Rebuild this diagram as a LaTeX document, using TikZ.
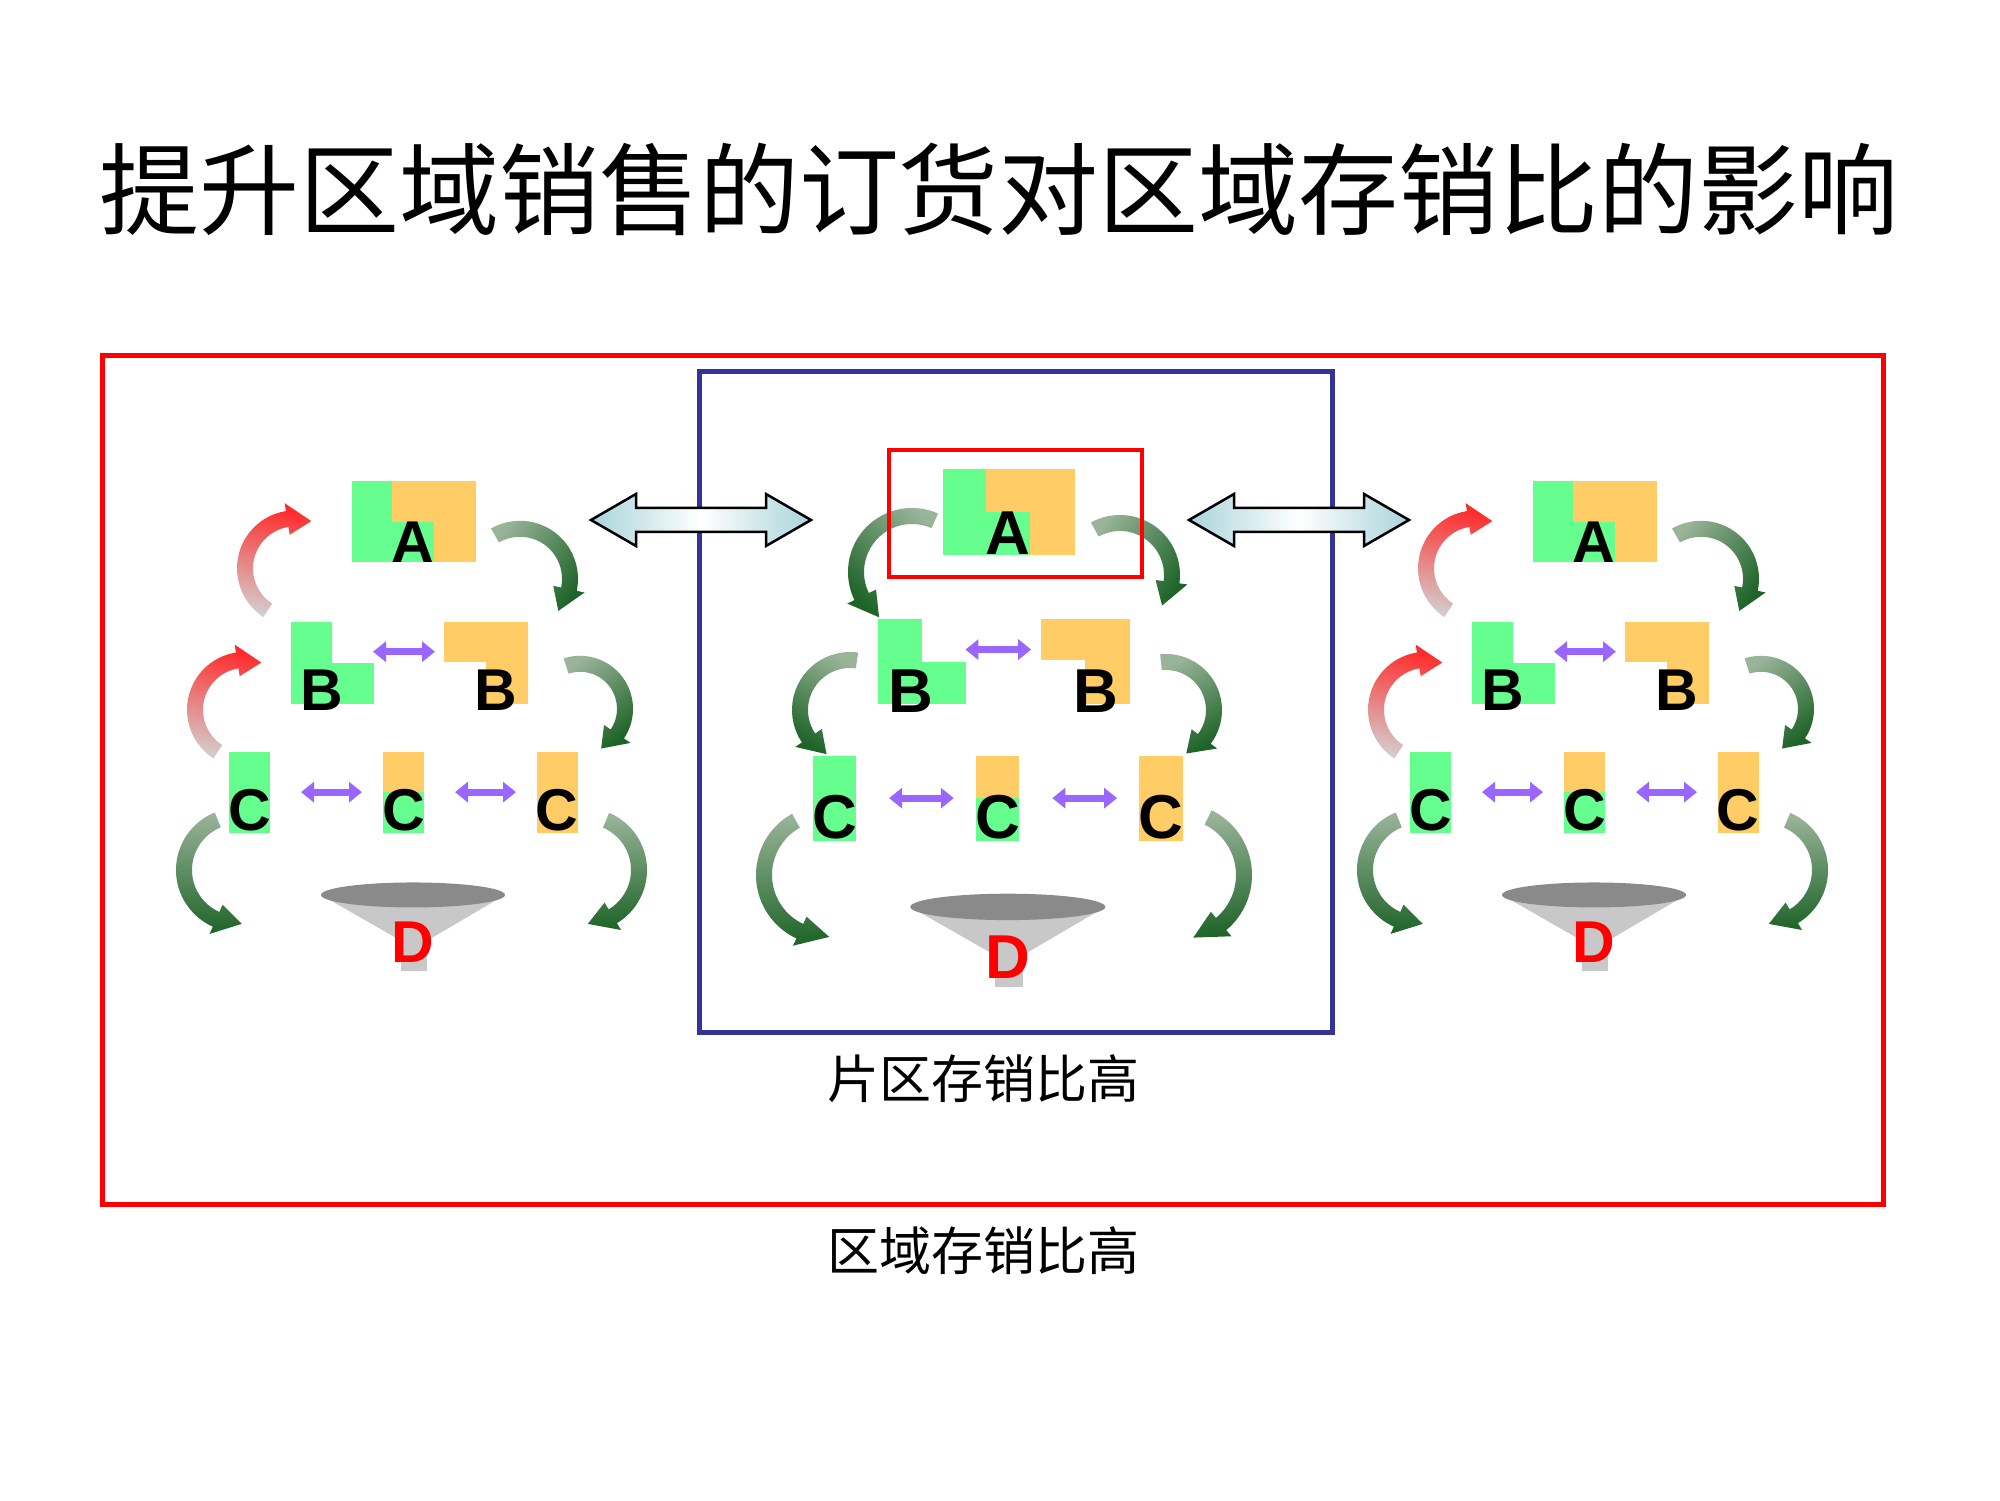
\documentclass[tikz,border=0pt]{standalone}
\usepackage{fontspec}
\usetikzlibrary{arrows.meta}
\newfontfamily\cjk{Noto Sans CJK SC}
\newfontfamily\arl{Liberation Sans}
\definecolor{gbox}{HTML}{66FF8F}
\definecolor{obox}{HTML}{FFCC66}
\definecolor{purp}{HTML}{9966FF}
\definecolor{bluebox}{HTML}{333399}
\definecolor{glight}{HTML}{9AB49A}
\definecolor{gdark}{HTML}{1E6428}
\definecolor{rlight}{HTML}{D4CCCC}
\definecolor{rdark}{HTML}{FF2A2A}
\definecolor{hollow}{HTML}{A9D4DA}
\definecolor{funtop}{HTML}{8A8A8A}
\definecolor{funbody}{HTML}{C8C8C8}
\tikzset{
  lett/.style={anchor=base,inner sep=0pt,font=\arl\bfseries\fontsize{#1}{#1}\selectfont},
  parr/.style={purp,line width=7pt,{Triangle[width=20pt,length=13pt]}-{Triangle[width=20pt,length=13pt]}},
  hollowarr/.style={draw=black,line width=2.5pt,left color=hollow,right color=hollow,middle color=white}
}
\newcommand\carrow[7]{%
 \pgfmathsetmacro\cyy{1500-(#2)}%
 \pgfmathsetmacro\dd{(#5>#4)?28:-28}%
 \pgfmathsetmacro\tipang{#5+\dd}%
 \pgfmathsetmacro\chordang{(#4+#5)/2+((#5>#4)?90:-90)}%
 \pgfmathsetmacro\sa{\chordang-90}%
 \shade[top color=#7,bottom color=#6,shading angle=\sa]
  ([shift={(#4:#3+8)}]#1,\cyy) arc[start angle=#4,end angle=#5,radius=#3+8]
  -- ([shift={(#5:#3+16)}]#1,\cyy) -- ([shift={(\tipang:#3)}]#1,\cyy)
  -- ([shift={(#5:#3-16)}]#1,\cyy) -- ([shift={(#5:#3-8)}]#1,\cyy)
  arc[start angle=#5,end angle=#4,radius=#3-8] -- cycle;}
\newcommand\clusterbody[1]{%
 \fill[gbox] (352,481) rectangle (392,559);
 \fill[obox] (392,481) rectangle (476,520);
 \fill[obox] (434,520) rectangle (476,559);
 \fill[gbox] (392,520) rectangle (434,559);
 \fill[gbox] (291,617) rectangle (332,695);
 \fill[gbox] (332,656) rectangle (374,695);
 \fill[obox] (444,617) rectangle (528,655);
 \fill[obox] (486,655) rectangle (528,695);
 \fill[gbox] (229,742) rectangle (270,819);
 \fill[obox] (383,742) rectangle (424,780);
 \fill[gbox] (383,780) rectangle (424,819);
 \fill[obox] (537,742) rectangle (578,819);
 \coordinate (pb1) at (373,645); \coordinate (pb2) at (435,645);
 \coordinate (pc1) at (301,780); \coordinate (pc2) at (362,780);
 \coordinate (pc3) at (455,780); \coordinate (pc4) at (516,780);
 \draw[parr] (pb1) -- (pb2);
 \draw[parr] (pc1) -- (pc2);
 \draw[parr] (pc3) -- (pc4);
 \fill[funbody] (321,879) -- (505,879) -- (427,923) -- (401,923) -- cycle;
 \fill[funbody] (401,915) rectangle (427,952);
 \fill[funtop] (413,879) ellipse [x radius=92,y radius=12];
 \node[lett=#1] (lA) at (413,559) {A};
 \node[lett=#1] (lB1) at (322,702) {B};
 \node[lett=#1] (lB2) at (496,702) {B};
 \node[lett=#1] (lC1) at (250,817) {C};
 \node[lett=#1] (lC2) at (404,817) {C};
 \node[lett=#1] (lC3) at (557,817) {C};
 \node[lett=#1,text=red] (lD) at (413,944) {D};
}
\newcommand\sidearrows[1]{%
 \carrow{295+#1}{-19.2+1.04*565}{50}{237}{99}{rlight}{rdark}
 \carrow{245+#1}{-19.2+1.04*701}{50}{237}{99}{rlight}{rdark}
 \carrow{520+#1}{-19.2+1.04*575}{50}{120}{-12}{glight}{gdark}
 \carrow{580+#1}{-19.2+1.04*700}{45}{108}{-34}{glight}{gdark}
 \carrow{238+#1}{-19.2+1.04*855}{54}{112}{246}{glight}{gdark}
 \carrow{585+#1}{-19.2+1.04*855}{54}{67}{-59}{glight}{gdark}
}
\begin{document}
\begin{tikzpicture}[x=1pt,y=1pt]
\useasboundingbox (0,0) rectangle (2000,1500);
\fill[white] (0,0) rectangle (2000,1500);
\sidearrows{0}
\sidearrows{1181}
\carrow{912}{572}{56}{66}{206}{glight}{gdark}
\carrow{1120}{575}{52}{119}{-8}{glight}{gdark}
\carrow{850}{710}{50}{82}{214}{glight}{gdark}
\carrow{1166}{710}{48}{96}{-37}{glight}{gdark}
\carrow{826}{875}{62}{119}{245}{glight}{gdark}
\carrow{1180}{875}{64}{64}{-50}{glight}{gdark}
\begin{scope}[yshift=1500pt,yscale=-1]
 \node[font=\cjk\fontsize{100}{100}\selectfont,inner sep=0pt] (title) at (999,189) {提升区域销售的订货对区域存销比的影响};
 \draw[red,line width=5pt] (102,356) rectangle (1883,1205);
 \draw[bluebox,line width=5pt] (699,372) rectangle (1332,1033);
 \node[font=\cjk\fontsize{52}{52}\selectfont,inner sep=0pt] (lab1) at (983,1079) {片区存销比高};
 \node[font=\cjk\fontsize{52}{52}\selectfont,inner sep=0pt] (lab2) at (983,1251) {区域存销比高};
 \draw[hollowarr] (591,520) -- (636,494) -- (636,508) -- (766,508) -- (766,494) -- (811,520) -- (766,546) -- (766,532) -- (636,532) -- (636,546) -- cycle;
 \draw[hollowarr] (1189,520) -- (1234,494) -- (1234,508) -- (1364,508) -- (1364,494) -- (1409,520) -- (1364,546) -- (1364,532) -- (1234,532) -- (1234,546) -- cycle;
 \begin{scope}[shift={(0,-19.2)},yscale=1.04]
  \clusterbody{59}
 \end{scope}
 \begin{scope}[shift={(1181,-19.2)},yscale=1.04]
  \clusterbody{59}
 \end{scope}
 \begin{scope}[shift={(570,-60)},xscale=1.06,yscale=1.10]
  \clusterbody{62}
 \end{scope}
 \draw[red,line width=4pt] (889,450) rectangle (1142,577);
\end{scope}
\end{tikzpicture}
\end{document}
